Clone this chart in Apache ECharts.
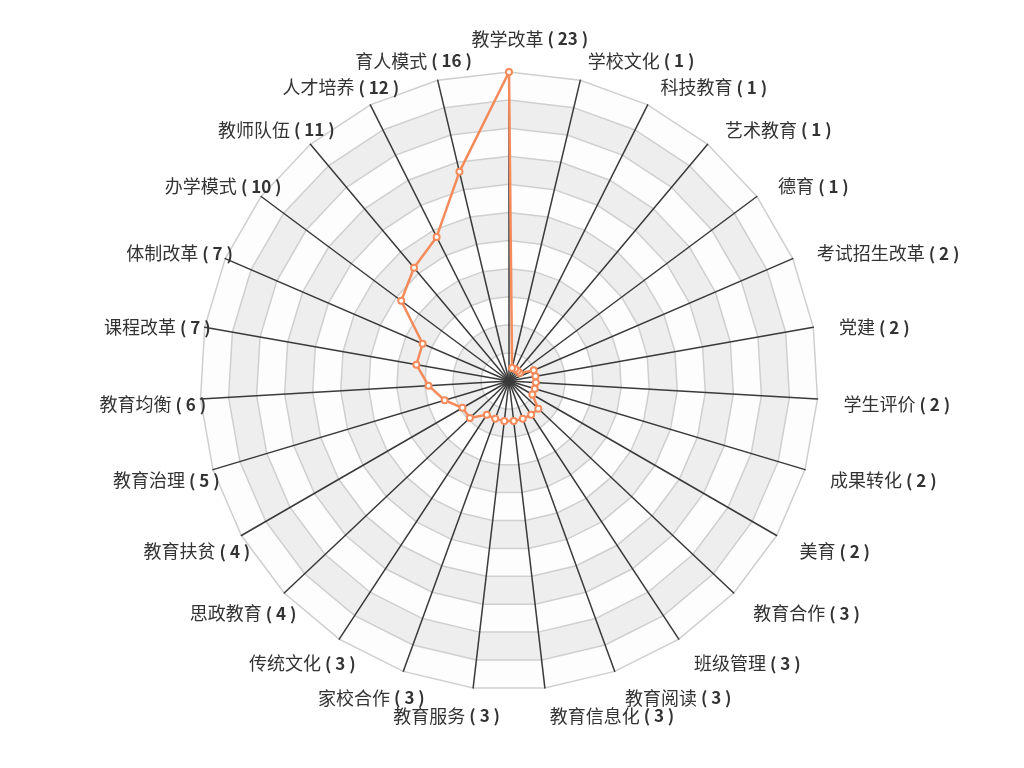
<!DOCTYPE html>
<html lang="zh">
<head>
    <meta charset="utf-8">
    <title>教育主题雷达图</title>
    <script src="https://cdn.jsdelivr.net/npm/echarts@6/dist/echarts.min.js"></script>
    <style>
        html, body { margin: 0; padding: 0; background: #fff; }
        #main { width: 1024px; height: 768px; }
    </style>
</head>
<body>
<div id="main"></div>
<script type="text/javascript">
    // 主题名称（按数量从多到少，雷达图从顶部开始逆时针排列）
    var topics = ['教学改革', '育人模式', '人才培养', '教师队伍', '办学模式', '体制改革', '课程改革',
        '教育均衡', '教育治理', '教育扶贫', '思政教育', '传统文化', '家校合作', '教育服务',
        '教育信息化', '教育阅读', '班级管理', '教育合作', '美育', '成果转化', '学生评价',
        '党建', '考试招生改革', '德育', '艺术教育', '科技教育', '学校文化'];
    // 各主题数量
    var counts = [23, 16, 12, 11, 10, 7, 7, 6, 5, 4, 4, 3, 3, 3, 3, 3, 3, 3, 2, 2, 2, 2, 2, 1, 1, 1, 1];
    var axisMax = 23;

    var chart = echarts.init(document.getElementById('main'));
    var indicator = [];
    for (var i = 0; i < topics.length; i++) {
        indicator.push({ name: topics[i], max: axisMax });
    }

    var option = {
        backgroundColor: '#fff',
        animation: false,
        radar: {
            center: [509, 381],
            radius: 309,
            startAngle: 90,
            splitNumber: 11,
            shape: 'polygon',
            indicator: indicator,
            nameGap: 24,
            axisName: {
                color: '#333',
                fontSize: 18,
                fontFamily: 'Noto Sans CJK SC',
                padding: [8, 0, 0, 2],
                // 原图中数量部分没有计入标签宽度，用窄宽度的 rich 块模拟
                formatter: function (name) {
                    var idx = topics.indexOf(name);
                    return '{n|' + name + ' }{v|( ' + counts[idx] + ' )}';
                },
                rich: {
                    n: {
                        color: '#333',
                        fontSize: 18,
                        align: 'left',
                        fontFamily: 'Noto Sans CJK SC'
                    },
                    v: {
                        color: '#333',
                        fontSize: 17,
                        fontWeight: 'bold',
                        align: 'left',
                        width: 1,
                        fontFamily: 'Noto Sans CJK SC'
                    }
                }
            },
            axisLine: { lineStyle: { color: '#3a3a3a', width: 1.5 } },
            splitLine: { lineStyle: { color: '#cfcfcf', width: 1.5 } },
            splitArea: {
                show: true,
                areaStyle: { color: ['rgba(250,250,250,0.3)', 'rgba(200,200,200,0.3)'] }
            }
        },
        series: [{
            type: 'radar',
            symbol: 'emptyCircle',
            symbolSize: 6,
            lineStyle: { color: '#f58a5b', width: 2.5 },
            itemStyle: { color: '#f58a5b', borderWidth: 1.5 },
            data: [{ value: counts, name: '数量' }]
        }]
    };
    chart.setOption(option);
</script>
</body>
</html>
